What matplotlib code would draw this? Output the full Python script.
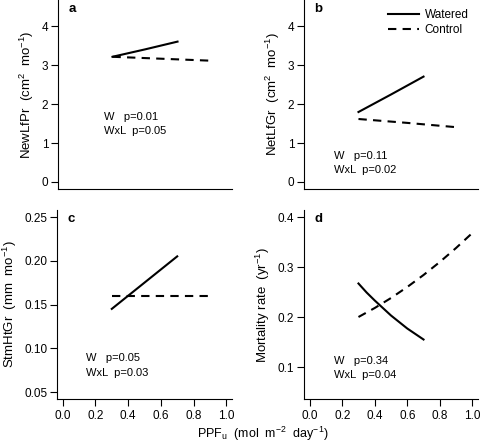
import numpy as np
import matplotlib.pyplot as plt

plt.rcParams['font.family'] = ['Liberation Sans', 'DejaVu Sans']
plt.rcParams['mathtext.fontset'] = 'custom'
plt.rcParams['mathtext.rm'] = 'Liberation Sans'
plt.rcParams['mathtext.it'] = 'Liberation Sans'

# panel a: NewLfPr
a_xw = [0.3, 0.5, 0.7]
a_yw = [3.22, 3.41, 3.61]
a_xc = [0.3, 0.6, 0.9]
a_yc = [3.22, 3.17, 3.12]
# panel b: NetLfGr
b_xw = [0.3, 0.5, 0.7]
b_yw = [1.80, 2.25, 2.71]
b_xc = [0.3, 0.6, 0.9]
b_yc = [1.62, 1.52, 1.41]
# panel c: StmHtGr
c_xw = [0.3, 0.5, 0.7]
c_yw = [0.145, 0.175, 0.205]
c_xc = [0.3, 0.6, 0.9]
c_yc = [0.160, 0.160, 0.160]
# panel d: mortality
d_xw = [0.3, 0.35, 0.4, 0.45, 0.5, 0.55, 0.6, 0.65, 0.7]
d_yw = [0.267, 0.249, 0.233, 0.218, 0.203, 0.190, 0.177, 0.166, 0.155]
d_xc = [0.3, 0.4, 0.5, 0.6, 0.7, 0.8, 0.9, 1.0]
d_yc = [0.200, 0.218, 0.238, 0.260, 0.284, 0.310, 0.338, 0.368]

stats = {
    'a': ("W   p=0.01", "WxL  p=0.05"),
    'b': ("W   p=0.11", "WxL  p=0.02"),
    'c': ("W   p=0.05", "WxL  p=0.03"),
    'd': ("W   p=0.34", "WxL  p=0.04"),
}

fig = plt.figure(figsize=(4.8, 4.44), dpi=100)
W, H = 480, 444

def mkax(x0, x1, y0, y1):
    return fig.add_axes([x0 / W, 1 - y1 / H, (x1 - x0) / W, (y1 - y0) / H])

ax_a = mkax(58, 232, 0, 189)
ax_b = mkax(304, 478, 0, 189)
ax_c = mkax(57, 232, 210, 399)
ax_d = mkax(304, 478, 210, 399)

panels = [
    (ax_a, 'a', a_xw, a_yw, a_xc, a_yc, (-0.18, 4.68), [0, 1, 2, 3, 4], ['0', '1', '2', '3', '4'],
     "NewLfPr  (cm$^{2}$  mo$^{-1}$)", (0.245, 1.68), 0.38),
    (ax_b, 'b', b_xw, b_yw, b_xc, b_yc, (-0.18, 4.68), [0, 1, 2, 3, 4], ['0', '1', '2', '3', '4'],
     "NetLfGr  (cm$^{2}$  mo$^{-1}$)", (0.15, 0.67), 0.35),
    (ax_c, 'c', c_xw, c_yw, c_xc, c_yc, (0.042, 0.258), [0.05, 0.10, 0.15, 0.20, 0.25],
     ['0.05', '0.10', '0.15', '0.20', '0.25'],
     "StmHtGr  (mm  mo$^{-1}$)", (0.145, 0.0885), 0.0165),
    (ax_d, 'd', d_xw, d_yw, d_xc, d_yc, (0.036, 0.414), [0.1, 0.2, 0.3, 0.4], ['0.1', '0.2', '0.3', '0.4'],
     "Mortality rate  (yr$^{-1}$)", (0.15, 0.112), 0.027),
]

for ax, lab, xw, yw, xc, yc, ylim, yt, ytl, ylab, tpos, dy in panels:
    ax.plot(xw, yw, color='black', lw=1.5, label='Watered')
    ax.plot(xc, yc, color='black', lw=1.5, dashes=(4, 3), label='Control')
    ax.set_xlim(-0.035, 1.035)
    ax.set_ylim(*ylim)
    ax.spines['top'].set_visible(False)
    ax.spines['right'].set_visible(False)
    ax.spines['left'].set_linewidth(0.8)
    ax.spines['bottom'].set_linewidth(0.8)
    ax.set_yticks(yt)
    ax.set_yticklabels(ytl)
    ax.tick_params(axis='y', direction='out', length=5, width=0.8, labelsize=8.5, pad=2)
    ax.set_ylabel(ylab, fontsize=9.5, labelpad=4)
    ax.text(0.06, 0.985, lab, transform=ax.transAxes, fontsize=9.5, fontweight='bold',
            va='top', ha='left')
    s1, s2 = stats[lab]
    ax.text(tpos[0], tpos[1], s1, fontsize=8, va='center', ha='left')
    ax.text(tpos[0], tpos[1] - dy, s2, fontsize=8, va='center', ha='left')

for ax in (ax_a, ax_b):
    ax.set_xticks([])

for ax in (ax_c, ax_d):
    ax.set_xticks([0.0, 0.2, 0.4, 0.6, 0.8, 1.0])
    ax.set_xticklabels(['0.0', '0.2', '0.4', '0.6', '0.8', '1.0'])
    ax.tick_params(axis='x', direction='out', length=5, width=0.8, labelsize=8.5, pad=3)

ax_b.legend(loc='upper right', bbox_to_anchor=(1.0, 1.0), frameon=False, fontsize=8.5,
            handlelength=2.6, handletextpad=0.5, labelspacing=0.25, borderpad=0.3)

fig.text(263 / W, 1 - 434 / H, "PPF$_{u}$  (mol  m$^{-2}$  day$^{-1}$)", fontsize=9,
         ha='center', va='center')

fig.savefig('out.png', dpi=100)
